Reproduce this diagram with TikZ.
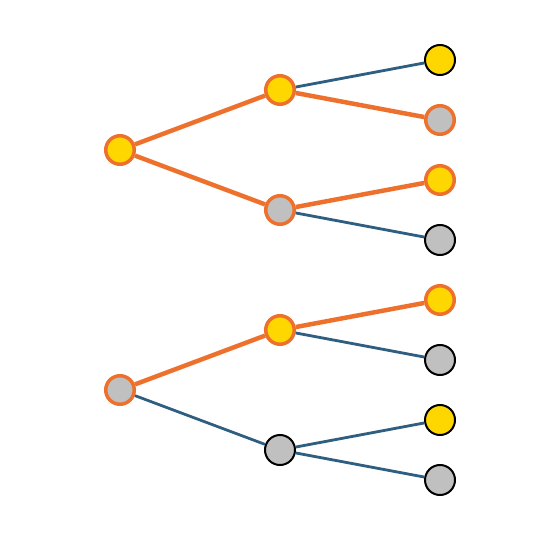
\documentclass[tikz,border=0pt]{standalone}
\usepackage{xcolor}
\usepackage{tikz}
\usetikzlibrary{positioning}
\definecolor{gold}{RGB}{255,215,0}
\definecolor{silver}{RGB}{192,192,192}
\definecolor{hotorange}{RGB}{237,113,45}
\definecolor{slateblue}{RGB}{46,94,128}

\begin{document}
\begin{tikzpicture}[x=1pt, y=-1pt,
        onnode/.style={circle, draw=hotorange, line width=3.5pt, minimum size=28.5pt, inner sep=0pt},
        offnode/.style={circle, draw=black, line width=2pt, minimum size=30pt, inner sep=0pt},
        hot/.style={hotorange, line width=4.5pt},
        cold/.style={slateblue, line width=2.8pt}]

        \useasboundingbox (0,0) rectangle (560,540);

        % Roots
        \node[onnode, fill=gold] (R1) at (120,150) {};
        \node[onnode, fill=silver] (R2) at (120,390) {};

        % Middle layer
        \node[onnode, fill=gold] (M1) at (280,90) {};
        \node[onnode, fill=silver] (M2) at (280,210) {};
        \node[onnode, fill=gold] (M3) at (280,330) {};
        \node[offnode, fill=silver] (M4) at (280,450) {};

        % Leaves
        \node[offnode, fill=gold] (L1) at (440,60) {};
        \node[onnode, fill=silver] (L2) at (440,120) {};
        \node[onnode, fill=gold] (L3) at (440,180) {};
        \node[offnode, fill=silver] (L4) at (440,240) {};
        \node[onnode, fill=gold] (L5) at (440,300) {};
        \node[offnode, fill=silver] (L6) at (440,360) {};
        \node[offnode, fill=gold] (L7) at (440,420) {};
        \node[offnode, fill=silver] (L8) at (440,480) {};

        % Edges
        \draw[hot] (R1) -- (M1);
        \draw[hot] (R1) -- (M2);
        \draw[cold] (M1) -- (L1);
        \draw[hot] (M1) -- (L2);
        \draw[hot] (M2) -- (L3);
        \draw[cold] (M2) -- (L4);
        \draw[hot] (R2) -- (M3);
        \draw[cold] (R2) -- (M4);
        \draw[hot] (M3) -- (L5);
        \draw[cold] (M3) -- (L6);
        \draw[cold] (M4) -- (L7);
        \draw[cold] (M4) -- (L8);

    \end{tikzpicture}
\end{document}
